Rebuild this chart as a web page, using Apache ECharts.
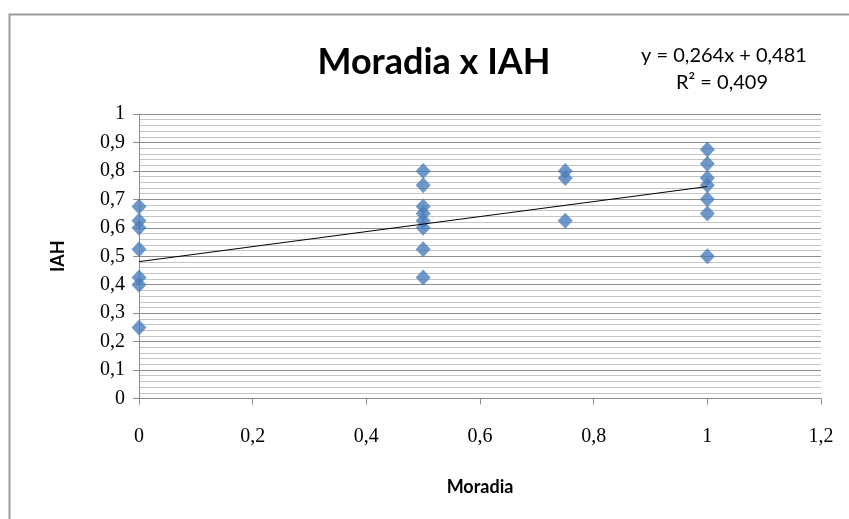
<!DOCTYPE html>
<html>
<head>
<meta charset="utf-8">
<script src="https://cdn.jsdelivr.net/npm/echarts@6/dist/echarts.min.js"></script>
<style>
  html, body { margin: 0; padding: 0; background: #ffffff; }
  #chart { width: 849px; height: 519px; }
</style>
</head>
<body>
<div id="chart"></div>
<script>
// Moradia (x) against IAH (y), one entry per observation
const moradia = [
  0, 0, 0, 0, 0, 0, 0,
  0.5, 0.5, 0.5, 0.5, 0.5, 0.5, 0.5, 0.5,
  0.75, 0.75, 0.75,
  1, 1, 1, 1, 1, 1, 1
];
const iah = [
  0.675, 0.625, 0.6, 0.525, 0.425, 0.4, 0.25,
  0.8, 0.75, 0.675, 0.65, 0.625, 0.6, 0.525, 0.425,
  0.8, 0.775, 0.625,
  0.875, 0.825, 0.775, 0.75, 0.7, 0.65, 0.5
];

// Linear fit shown on the chart
const trendSlope = 0.264;
const trendIntercept = 0.481;
const trendR2 = 0.409;
const trendRange = [0, 1];

const xTicks = [0, 0.2, 0.4, 0.6, 0.8, 1, 1.2];
const yTicks = [0, 0.1, 0.2, 0.3, 0.4, 0.5, 0.6, 0.7, 0.8, 0.9, 1];

const comma = v => String(+v.toFixed(3)).replace('.', ',');

const points = moradia.map((x, i) => [x, iah[i]]);
const trend = trendRange.map(x => [x, trendSlope * x + trendIntercept]);

const chart = echarts.init(document.getElementById('chart'), null, { renderer: 'canvas' });

const serif = '"Liberation Serif", "DejaVu Serif", serif';
const sans = 'Lato, "Open Sans", "Noto Sans", sans-serif';

chart.setOption({
  backgroundColor: '#ffffff',
  animation: false,
  graphic: [
    {
      type: 'rect',
      shape: { x: 9.5, y: 14.5, width: 900, height: 600 },
      style: { fill: 'none', stroke: '#9c9c9c', lineWidth: 2 },
      silent: true
    },
    {
      type: 'text',
      x: 434, y: 62,
      style: {
        text: 'Moradia x IAH',
        font: 'bold 36px ' + sans,
        fill: '#000000',
        align: 'center',
        verticalAlign: 'middle'
      }
    },
    {
      type: 'text',
      x: 724, y: 56,
      style: {
        text: 'y = ' + comma(trendSlope) + 'x + ' + comma(trendIntercept),
        font: '20px ' + sans,
        fill: '#000000',
        align: 'center',
        verticalAlign: 'middle'
      }
    },
    {
      type: 'text',
      x: 722, y: 83,
      style: {
        text: 'R² = ' + comma(trendR2),
        font: '20px ' + sans,
        fill: '#000000',
        align: 'center',
        verticalAlign: 'middle'
      }
    }
  ],
  grid: { left: 139, right: 28, top: 114, bottom: 120.5, containLabel: false },
  xAxis: {
    type: 'value',
    min: xTicks[0], max: xTicks[xTicks.length - 1], interval: 0.2,
    name: 'Moradia',
    nameLocation: 'middle',
    nameGap: 80,
    nameTextStyle: { fontFamily: sans, fontWeight: 'bold', fontSize: 18, color: '#000' },
    axisLine: { show: true, lineStyle: { color: '#8c8c8c', width: 1 } },
    axisTick: { show: true, inside: false, length: 6, lineStyle: { color: '#8c8c8c' } },
    splitLine: { show: false },
    axisLabel: {
      margin: 28,
      fontFamily: serif, fontSize: 20, color: '#000',
      formatter: v => comma(v)
    }
  },
  yAxis: {
    type: 'value',
    min: yTicks[0], max: yTicks[yTicks.length - 1], interval: 0.1,
    name: 'IAH',
    nameLocation: 'middle',
    nameRotate: 90,
    nameGap: 72,
    nameTextStyle: { fontFamily: sans, fontWeight: 'bold', fontSize: 18, color: '#000' },
    axisLine: { show: true, lineStyle: { color: '#8c8c8c', width: 1 } },
    axisTick: { show: true, inside: false, length: 6, lineStyle: { color: '#8c8c8c' } },
    splitLine: { show: true, lineStyle: { color: '#8e8e8e', width: 1 } },
    minorTick: { show: false, splitNumber: 5 },
    minorSplitLine: { show: true, lineStyle: { color: '#c4c4c4', width: 1 } },
    axisLabel: {
      margin: 14,
      fontFamily: serif, fontSize: 20, color: '#000',
      formatter: v => comma(v)
    }
  },
  series: [
    {
      type: 'scatter',
      data: points,
      symbol: 'diamond',
      symbolSize: [15, 16],
      itemStyle: { color: '#4a7ebb' },
      z: 3
    },
    {
      type: 'line',
      data: trend,
      symbol: 'none',
      lineStyle: { color: '#000000', width: 1 },
      z: 4
    }
  ]
});
</script>
</body>
</html>
